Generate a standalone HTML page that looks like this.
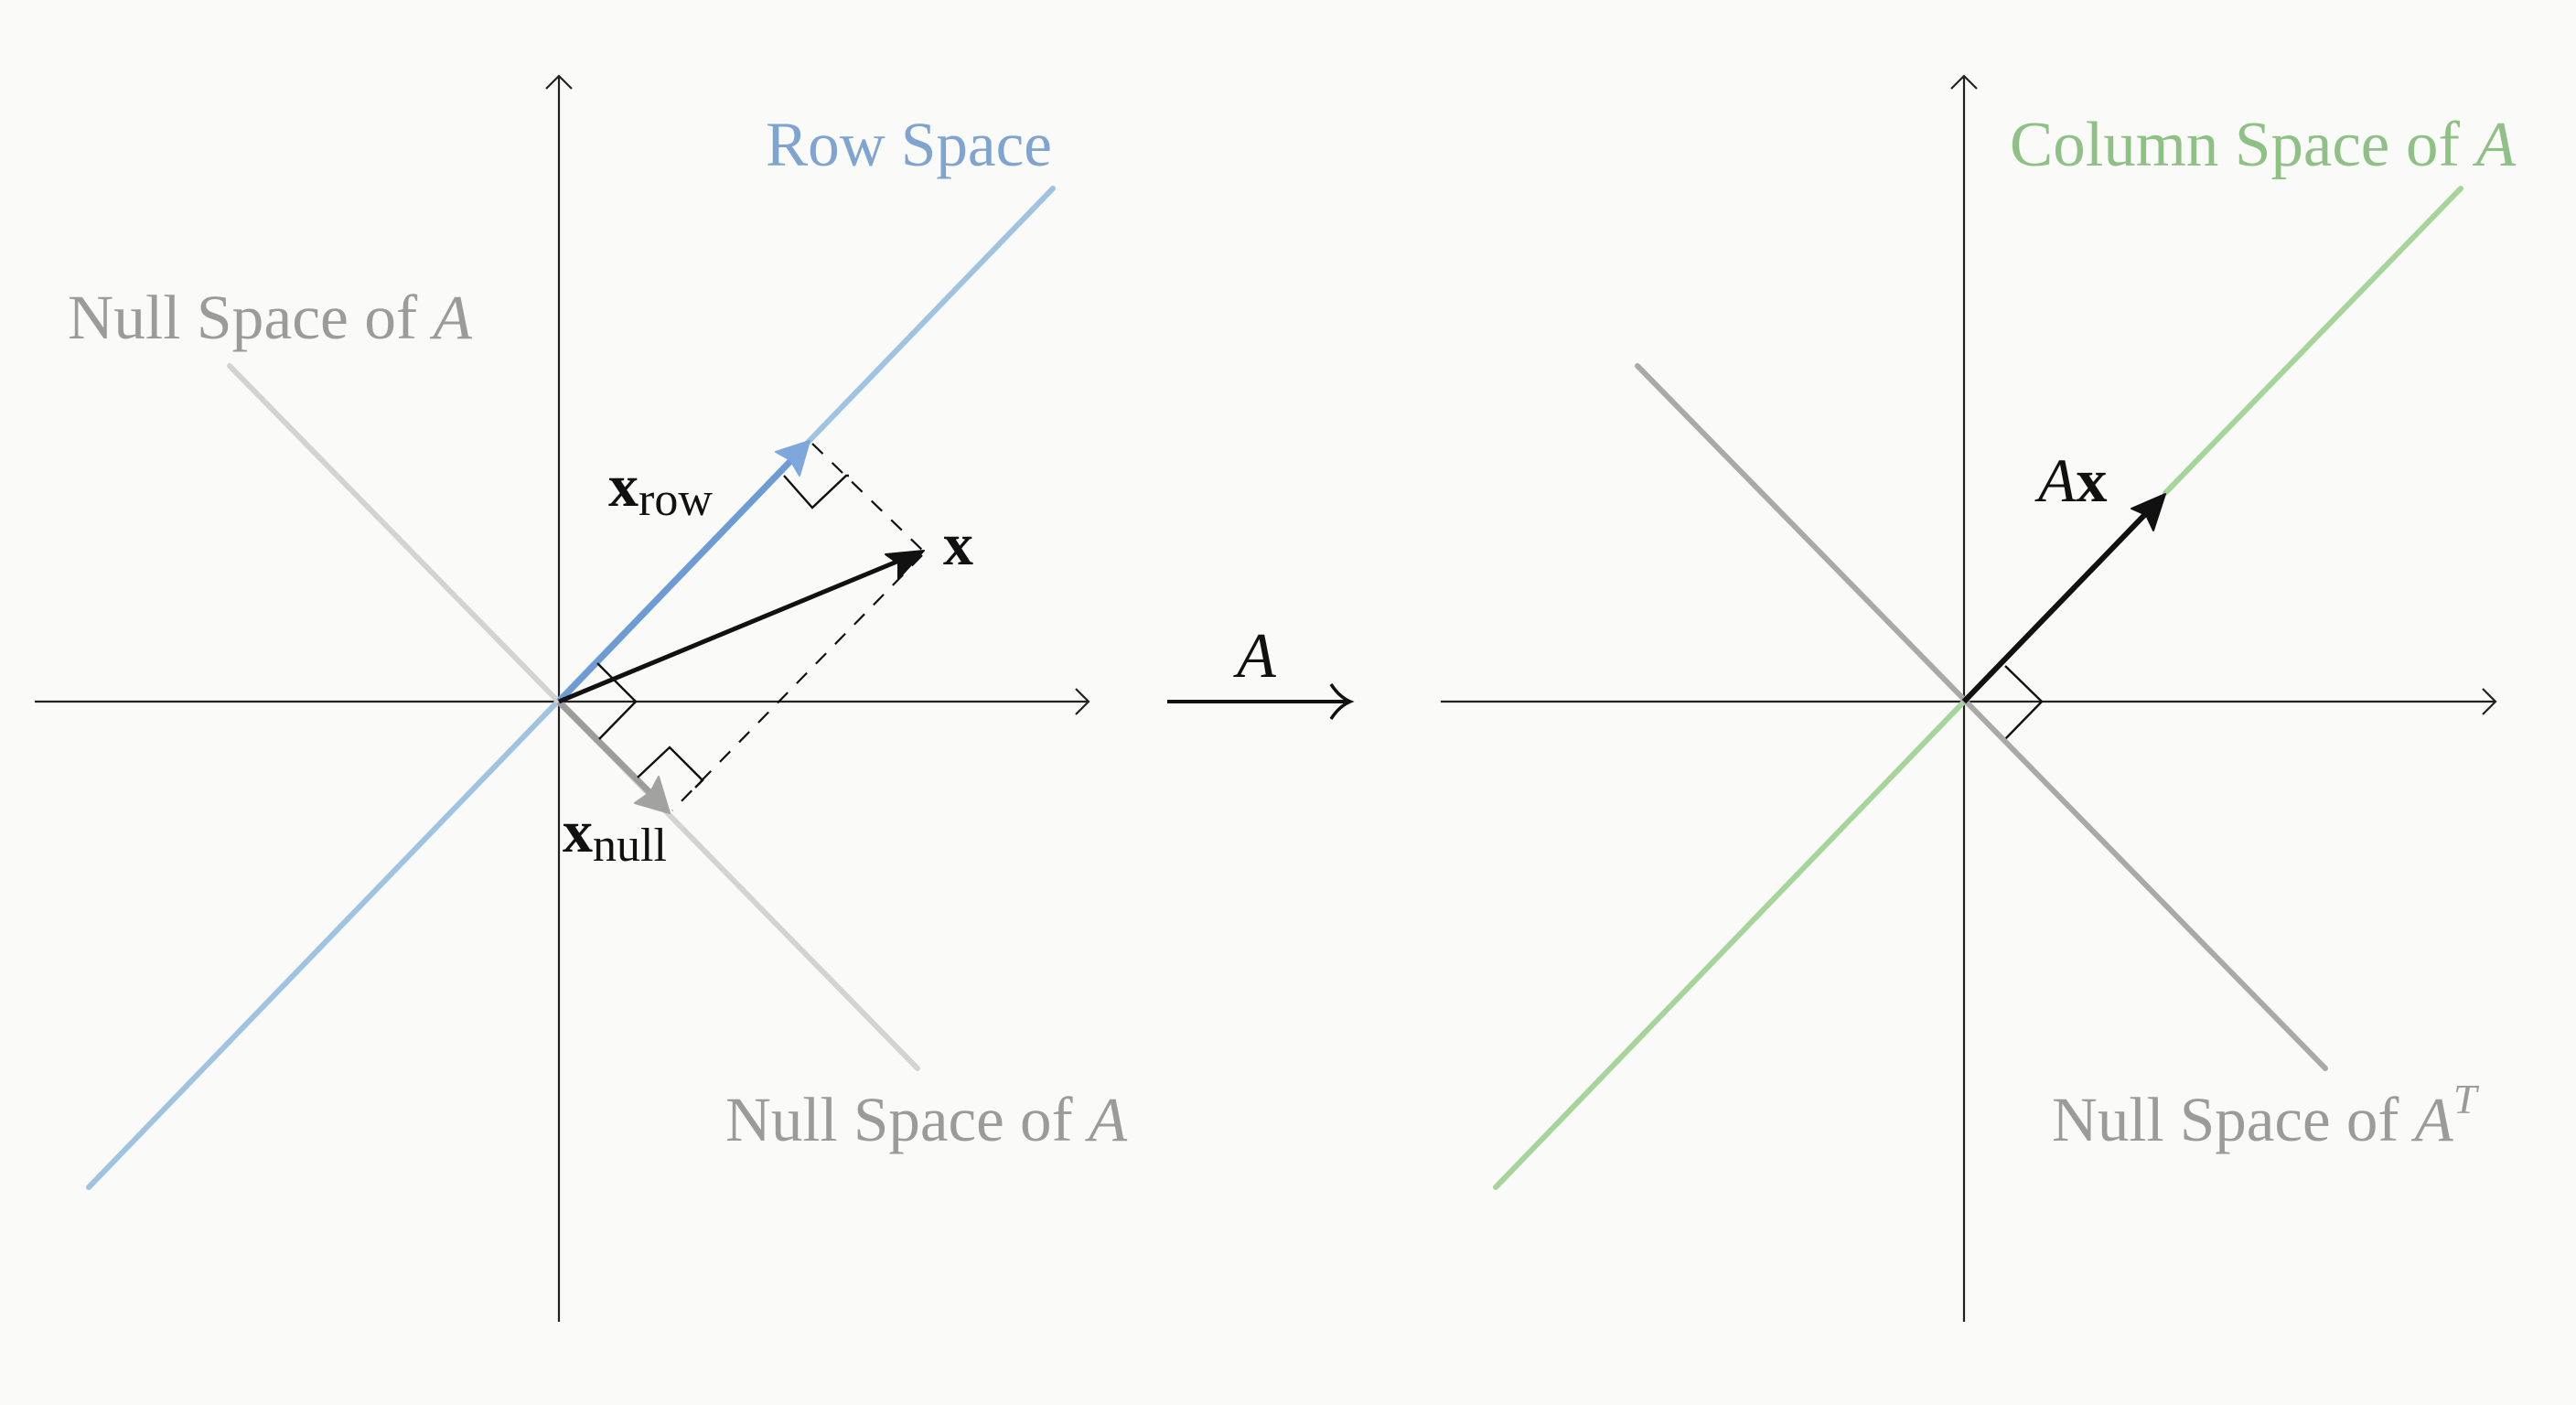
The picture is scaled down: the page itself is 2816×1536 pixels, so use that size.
<!DOCTYPE html>
<html><head><meta charset="utf-8"><style>
html,body{margin:0;padding:0;background:#fafaf8;}
svg{display:block;}
text{font-family:"Liberation Serif",serif;}
</style></head><body>
<svg width="2816" height="1536" viewBox="0 0 2816 1536" xmlns="http://www.w3.org/2000/svg">
<rect width="2816" height="1536" fill="#fafaf8"/>
<g stroke="#222" stroke-width="2.2" fill="none">
  <line x1="611" y1="1445" x2="611" y2="84"/>
  <polyline points="597,97 611,83 625,97"/>
  <line x1="38" y1="767" x2="1189" y2="767"/>
  <polyline points="1176,753 1190,767 1176,781"/>
  <line x1="2147" y1="1445" x2="2147" y2="84"/>
  <polyline points="2133,97 2147,83 2161,97"/>
  <line x1="1575" y1="767" x2="2727" y2="767"/>
  <polyline points="2714,753 2728,767 2714,781"/>
</g>
<line x1="1276" y1="767" x2="1474" y2="767" stroke="#111" stroke-width="4"/>
<path d="M1455,748 Q1464,762 1476,767 Q1464,772 1455,786" stroke="#111" stroke-width="3.5" fill="none"/>
<text x="1352" y="740" font-size="70" font-style="italic" fill="#111">A</text>

<line x1="97" y1="1298" x2="1151" y2="206" stroke="#9fc3e0" stroke-width="6" stroke-linecap="round"/>
<line x1="251" y1="400" x2="1003" y2="1168" stroke="#d3d3d1" stroke-width="6" stroke-linecap="round"/>

<line x1="611" y1="767" x2="872" y2="496" stroke="#6d9bd3" stroke-width="7"/>
<polygon points="885,482 874,520 864,503 848,494" fill="#7ea8dc" stroke="#7ea8dc" stroke-width="2" stroke-linejoin="round"/>
<line x1="611" y1="767" x2="718" y2="874" stroke="#9d9d9b" stroke-width="7"/>
<polygon points="732,889 694,878 711,866 720,849" fill="#a2a2a0" stroke="#a2a2a0" stroke-width="2" stroke-linejoin="round"/>
<line x1="611" y1="767" x2="990" y2="610" stroke="#111" stroke-width="5"/>
<polygon points="1010,602 982,633 982,616 968,606" fill="#111" stroke="#111" stroke-width="2" stroke-linejoin="round"/>

<g stroke="#111" stroke-width="2.2" stroke-dasharray="16,14" fill="none">
  <line x1="888" y1="485" x2="1010" y2="603"/>
  <line x1="1008" y1="607" x2="735" y2="886"/>
</g>
<g stroke="#111" stroke-width="2.4" fill="none">
  <polyline points="653,725 695,767 655,808"/>
  <polyline points="857,520 888,555 925,520 928,520"/>
  <polyline points="697,850 732,817 768,853 760,861"/>
  <polyline points="2192,728 2232,767 2192,808"/>
</g>

<line x1="1635" y1="1298" x2="2147" y2="767" stroke="#a6d49b" stroke-width="6" stroke-linecap="round"/>
<line x1="2367" y1="539" x2="2690" y2="206" stroke="#a6d49b" stroke-width="6" stroke-linecap="round"/>
<line x1="1790" y1="400" x2="2542" y2="1168" stroke="#a9a9a7" stroke-width="6" stroke-linecap="round"/>
<line x1="2147" y1="767" x2="2352" y2="555" stroke="#111" stroke-width="6"/>
<polygon points="2367,540 2354,580 2346,563 2330,556" fill="#111" stroke="#111" stroke-width="2" stroke-linejoin="round"/>

<text x="837" y="181" font-size="69" fill="#7fa4cf" textLength="313" lengthAdjust="spacingAndGlyphs">Row Space</text>
<text x="74" y="370" font-size="69" fill="#9b9b99" textLength="442" lengthAdjust="spacingAndGlyphs">Null Space of <tspan font-style="italic">A</tspan></text>
<text x="793" y="1247" font-size="69" fill="#9b9b99" textLength="439" lengthAdjust="spacingAndGlyphs">Null Space of <tspan font-style="italic">A</tspan></text>
<text x="2197" y="181" font-size="70" fill="#8fc085" textLength="553" lengthAdjust="spacingAndGlyphs">Column Space of <tspan font-style="italic">A</tspan></text>
<text x="2243" y="1247" font-size="69" fill="#9b9b99">Null Space of <tspan font-style="italic">A</tspan><tspan font-size="46" font-style="italic" dy="-30">T</tspan></text>

<text x="665" y="553" font-size="66" font-weight="bold" fill="#111">x<tspan font-size="52" font-weight="normal" dy="10">row</tspan></text>
<text x="1031" y="617" font-size="66" font-weight="bold" fill="#111">x</text>
<text x="615" y="931" font-size="66" font-weight="bold" fill="#111">x<tspan font-size="52" font-weight="normal" dy="10">null</tspan></text>
<text x="2228" y="548" font-size="68" fill="#111"><tspan font-style="italic">A</tspan><tspan font-weight="bold">x</tspan></text>
</svg>
</body></html>
